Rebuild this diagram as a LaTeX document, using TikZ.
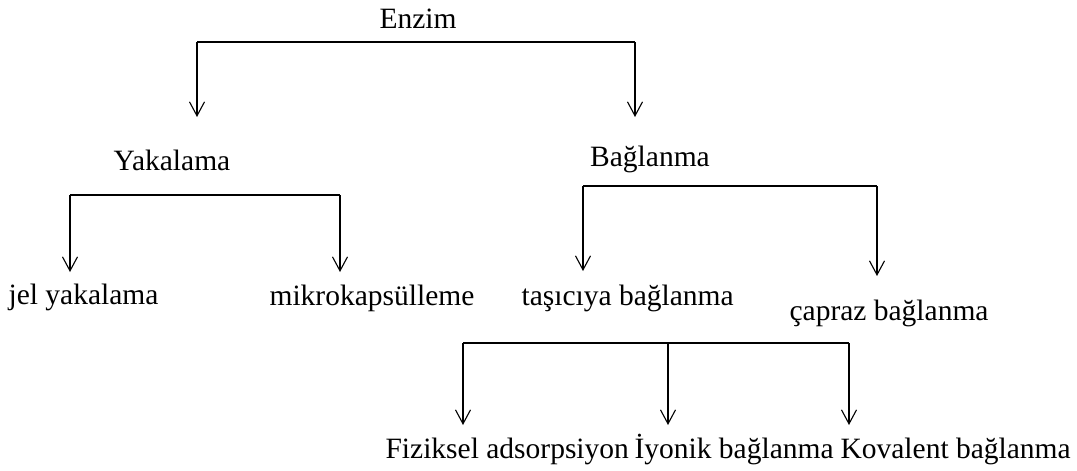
\documentclass[tikz,border=0pt]{standalone}
\usepackage{fontspec}
\setmainfont{Liberation Serif}
\usetikzlibrary{arrows.meta}

\begin{document}
\begin{tikzpicture}[x=1pt,y=-1pt,>={Straight Barb[length=14pt,width=15pt]},
  line width=1.1pt,font=\fontsize{29.5}{34}\selectfont,
  lbl/.style={inner sep=0pt,anchor=base}]
\path[use as bounding box] (0,0) rectangle (1077,471);

% top level
\node[lbl] (enzim) at (418,28) {Enzim};
\coordinate (eL) at (197,42);
\coordinate (eR) at (635,42);
\coordinate (eLtip) at (197,117);
\coordinate (eRtip) at (635,117);
\draw (eL) -- (eR);
\draw[->] (eL) -- (eLtip);
\draw[->] (eR) -- (eRtip);

% second level
\node[lbl] (yak) at (172,170) {Yakalama};
\node[lbl] (bag) at (650,166) {Bağlanma};

% branch under Yakalama
\coordinate (yL) at (70,195);
\coordinate (yR) at (340,195);
\coordinate (yLtip) at (70,272);
\coordinate (yRtip) at (340,272);
\draw (yL) -- (yR);
\draw[->] (yL) -- (yLtip);
\draw[->] (yR) -- (yRtip);
\node[lbl,anchor=base west] (jel) at (8,304) {jel yakalama};
\node[lbl,anchor=base west] (mikro) at (269,305) {mikrokapsülleme};

% branch under Baglanma
\coordinate (bL) at (583,186);
\coordinate (bR) at (877,186);
\coordinate (bLtip) at (583,271);
\coordinate (bRtip) at (877,276);
\draw (bL) -- (bR);
\draw[->] (bL) -- (bLtip);
\draw[->] (bR) -- (bRtip);
\node[lbl,anchor=base west] (tasi) at (521,305) {taşıcıya bağlanma};
\node[lbl,anchor=base west] (capraz) at (789,320) {çapraz bağlanma};

% third level
\coordinate (tL) at (463,343);
\coordinate (tM) at (668,343);
\coordinate (tR) at (849,343);
\draw (tL) -- (tR);
\foreach \c in {tL,tM,tR}{
  \draw[->] (\c) -- ++(0,82);
}
\node[lbl,anchor=base west] (fiz) at (385,458) {Fiziksel adsorpsiyon};
\node[lbl,anchor=base west] (iyon) at (634,458) {İyonik bağlanma};
\node[lbl,anchor=base west] (kov) at (840,458) {Kovalent bağlanma};
\end{tikzpicture}
\end{document}
